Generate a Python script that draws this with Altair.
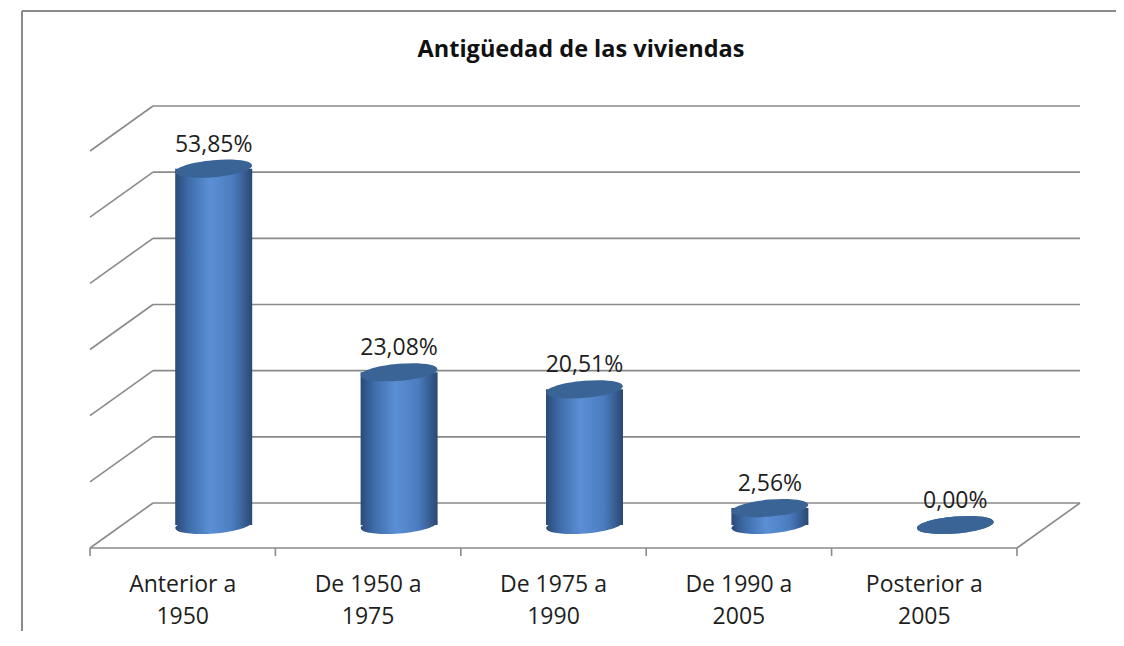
import altair as alt
import pandas as pd

# ---- data ----
title_text = "Antigüedad de las viviendas"
categories = ["Anterior a\n1950", "De 1950 a\n1975", "De 1975 a\n1990", "De 1990 a\n2005", "Posterior a\n2005"]
values = [53.85, 23.08, 20.51, 2.56, 0.00]
grid_values = [0, 10, 20, 30, 40, 50, 60]

labels = [f"{v:.2f}".replace(".", ",") + "%" for v in values]

df_bars = pd.DataFrame({
    "cat": categories,
    "value": values,
    "label": labels,
    "pos": [i + 0.5 for i in range(len(categories))],
    "zero": [0] * len(categories),
})
df_grid = pd.DataFrame({"v": grid_values, "x0": [0] * len(grid_values), "x1": [len(categories)] * len(grid_values)})
df_ticks = pd.DataFrame({"t": list(range(len(categories) + 1)), "zero": [0] * (len(categories) + 1)})
df_one = pd.DataFrame({"title": [title_text]})

# ---- styles ----
FONT = "Open Sans"
GRID = "#8a8a8a"
TEXT = "#1e1e1e"
DX, DY = 63, -45          # depth of the 3D box
CX, CY = 31, -23          # cylinders sit mid-depth
CYL_W = 77
ELLIPSE = "M-1,0A1,0.22,0,1,1,1,0A1,0.22,0,1,1,-1,0Z"

x_scale = alt.Scale(domain=[0, 5], range=[68, 995], nice=False, zero=False, padding=0)
y_scale = alt.Scale(domain=[0, 60], range=[537, 140], nice=False, zero=False, padding=0)

grad = alt.LinearGradient(
    gradient="linear",
    stops=[
        alt.GradientStop(color="#2b4a77", offset=0),
        alt.GradientStop(color="#3f6dab", offset=0.18),
        alt.GradientStop(color="#5b8fd5", offset=0.45),
        alt.GradientStop(color="#4b7cbf", offset=0.75),
        alt.GradientStop(color="#2a4874", offset=1),
    ],
    x1=0, x2=1, y1=0, y2=0,
)

X = lambda f: alt.X(f, type="quantitative", scale=x_scale, axis=None)
Y = lambda f: alt.Y(f, type="quantitative", scale=y_scale, axis=None)

frame_top = alt.Chart(df_one).mark_rule(color=GRID, strokeWidth=2).encode(
    x=alt.value(0), x2=alt.value(1300), y=alt.value(0))
frame_left = alt.Chart(df_one).mark_rule(color=GRID, strokeWidth=2).encode(
    x=alt.value(0), y=alt.value(0), y2=alt.value(800))

back_grid = alt.Chart(df_grid).mark_rule(
    color=GRID, strokeWidth=1.6, xOffset=DX, x2Offset=DX, yOffset=DY, y2Offset=DY
).encode(x=X("x0"), x2="x1:Q", y=Y("v"), y2="v:Q")

side_grid = alt.Chart(df_grid).mark_rule(
    color=GRID, strokeWidth=1.6, xOffset=DX, yOffset=DY
).encode(x=X("x0"), x2="x0:Q", y=Y("v"), y2="v:Q")

floor = df_grid[df_grid.v == 0]
floor_front = alt.Chart(floor).mark_rule(color=GRID, strokeWidth=1.6).encode(
    x=X("x0"), x2="x1:Q", y=Y("v"), y2="v:Q")
floor_right = alt.Chart(floor).mark_rule(color=GRID, strokeWidth=1.6, xOffset=DX, yOffset=DY).encode(
    x=X("x1"), x2="x1:Q", y=Y("v"), y2="v:Q")

ticks = alt.Chart(df_ticks).mark_rule(color=GRID, strokeWidth=1.6, y2Offset=8).encode(
    x=X("t"), y=Y("zero"), y2="zero:Q")

cat_labels = alt.Chart(df_bars).mark_text(
    font=FONT, fontSize=23, color=TEXT, lineBreak="\n", lineHeight=32,
    baseline="alphabetic", align="center", yOffset=44
).encode(x=X("pos"), y=Y("zero"), text="cat:N")

bottom_ell = alt.Chart(df_bars).mark_point(
    shape=ELLIPSE, size=CYL_W * CYL_W, angle=355, filled=True, fill=grad,
    strokeWidth=0, opacity=1, xOffset=CX, yOffset=CY
).encode(x=X("pos"), y=Y("zero"))

body = alt.Chart(df_bars).mark_bar(
    width=CYL_W, orient="vertical", color=grad, xOffset=CX, yOffset=CY, y2Offset=CY
).encode(x=X("pos"), y=Y("value"), y2="zero:Q")

top_ell = alt.Chart(df_bars).mark_point(
    shape=ELLIPSE, size=CYL_W * CYL_W, angle=355, filled=True, fill="#3a6396",
    strokeWidth=0, opacity=1, xOffset=CX, yOffset=CY
).encode(x=X("pos"), y=Y("value"))

val_labels = alt.Chart(df_bars).mark_text(
    font=FONT, fontSize=23, color=TEXT, baseline="alphabetic", align="center",
    xOffset=CX, yOffset=CY - 17
).encode(x=X("pos"), y=Y("value"), text="label:N")

title = alt.Chart(df_one).mark_text(
    font=FONT, fontSize=23.5, fontWeight="bold", color="#111111",
    baseline="alphabetic", align="center"
).encode(x=alt.value(559), y=alt.value(46), text="title:N")

chart = alt.layer(
    frame_top, frame_left, back_grid, side_grid, floor_front, floor_right, ticks,
    cat_labels, bottom_ell, body, top_ell, val_labels, title
).properties(
    width=1094, height=620,
    autosize=alt.AutoSizeParams(type="none"),
    padding={"left": 14, "top": 3, "right": 0, "bottom": 0},
    background="white",
).configure_view(strokeWidth=0)

chart.save("out.html", embed_options={"renderer": "svg", "actions": False})
